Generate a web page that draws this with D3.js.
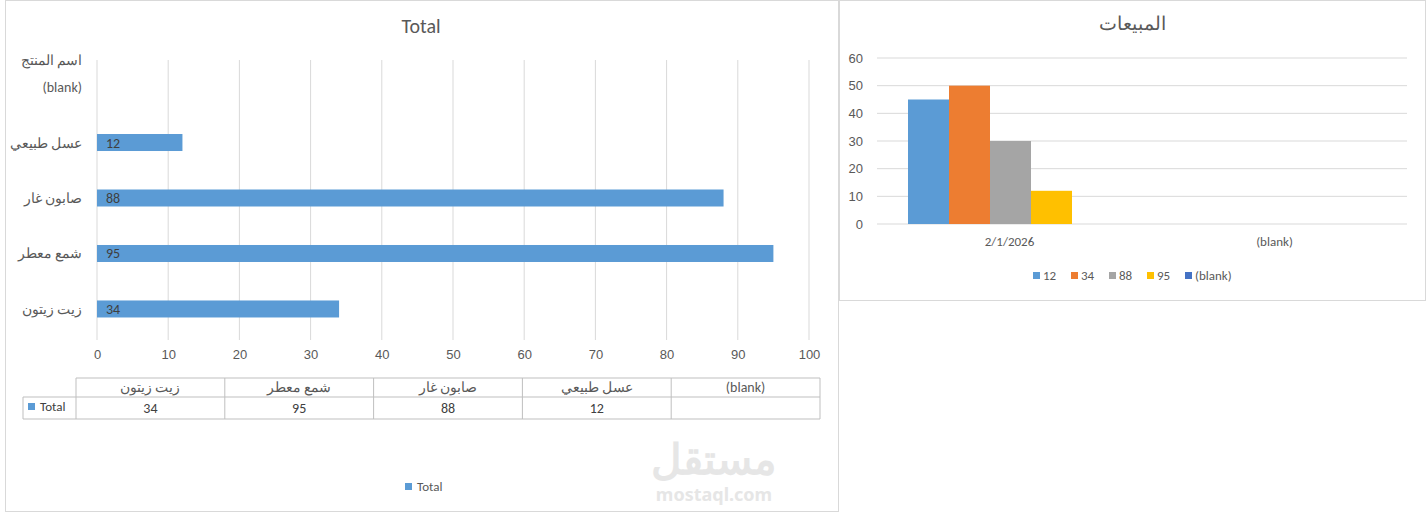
<!DOCTYPE html>
<html><head><meta charset="utf-8">
<script src="https://cdn.jsdelivr.net/npm/d3@7"></script>
<style>body{margin:0;background:#fff;font-family:Calibri,Carlito,"Liberation Sans","Noto Sans",sans-serif}</style>
</head><body><svg id="c" width="1428" height="514"></svg>
<script>
const barCats = ["(blank)", "عسل طبيعي", "صابون غار", "شمع  معطر", "زيت زيتون"];
const barVals = [null, 12, 88, 95, 34];
const xTicks = [0,10,20,30,40,50,60,70,80,90,100];
const tableCats = ["زيت زيتون", "شمع  معطر", "صابون غار", "عسل طبيعي", "(blank)"];
const tableVals = [34, 95, 88, 12, null];
const colCats = ["2/1/2026", "(blank)"];
const colSeries = ["12", "34", "88", "95", "(blank)"];
const colVals = [[45, 50, 30, 12, null], [null, null, null, null, null]];
const colColors = ["#5b9bd5", "#ed7d31", "#a5a5a5", "#ffc000", "#4472c4"];
const yTicks = [0,10,20,30,40,50,60];

const svg = d3.select("#c");
const txt = "#595959", grid = "#d9d9d9";
svg.append("rect").attr("x",5.5).attr("y",0.5).attr("width",833).attr("height",511).attr("fill","#fff").attr("stroke","#d9d9d9");
svg.append("text").attr("x",421).attr("y",33).attr("text-anchor","middle").attr("font-size",20).attr("fill",txt).text("Total");
const x = d3.scaleLinear().domain([0,100]).range([97,809]);
const y = d3.scaleBand().domain(barCats).range([59,337]).paddingInner(0.69).paddingOuter(0.35);
const gL = svg.append("g");
gL.selectAll("line.g").data(xTicks).join("line").attr("x1",d=>x(d)).attr("x2",d=>x(d)).attr("y1",60).attr("y2",340).attr("stroke",grid);
const ax = d3.axisBottom(x).tickValues(xTicks).tickSize(0).tickPadding(10);
gL.append("g").attr("transform","translate(0,340)").call(ax).call(g=>{g.select(".domain").remove();g.selectAll("text").attr("font-size",13).attr("fill",txt).attr("font-family","inherit");});
const bd = barCats.map((c,i)=>({c,v:barVals[i]})).filter(d=>d.v!=null);
gL.selectAll("rect.b").data(bd).join("rect")
 .attr("x",x(0)).attr("y",d=>y(d.c)+y.bandwidth()/2-8.5).attr("width",d=>x(d.v)-x(0)).attr("height",17).attr("fill","#5b9bd5");
gL.selectAll("text.v").data(bd).join("text")
 .attr("x",x(0)+9).attr("y",d=>y(d.c)+y.bandwidth()/2+5).attr("font-size",14).attr("fill","#404040").text(d=>d.v);
gL.selectAll("text.c").data(barCats).join("text").attr("x",82).attr("y",d=>y(d)+y.bandwidth()/2+5).attr("text-anchor","end")
 .attr("font-size",14).attr("fill",txt).text(d=>d);
gL.append("text").attr("x",82).attr("y",65).attr("text-anchor","end").attr("font-size",14).attr("fill",txt).text("اسم المنتج");
const tx = d3.scaleBand().domain(tableCats).range([76,820]);
const tg = svg.append("g").attr("stroke","#bfbfbf");
[[76,378,820,378],[23,397,820,397],[23,419,820,419],[23,397,23,419]].forEach(l=>tg.append("line").attr("x1",l[0]).attr("y1",l[1]).attr("x2",l[2]).attr("y2",l[3]));
tableCats.forEach(c=>tg.append("line").attr("x1",tx(c)).attr("x2",tx(c)).attr("y1",378).attr("y2",419));
tg.append("line").attr("x1",820).attr("x2",820).attr("y1",378).attr("y2",419);
svg.selectAll("text.th").data(tableCats).join("text").attr("x",d=>tx(d)+tx.bandwidth()/2).attr("y",392).attr("text-anchor","middle").attr("font-size",14).attr("fill",txt).text(d=>d);
svg.selectAll("text.td").data(tableCats.map((c,i)=>({c,v:tableVals[i]})).filter(d=>d.v!=null)).join("text").attr("x",d=>tx(d.c)+tx.bandwidth()/2).attr("y",413).attr("text-anchor","middle").attr("font-size",14).attr("fill","#404040").text(d=>d.v);
svg.append("rect").attr("x",28).attr("y",403).attr("width",7).attr("height",7).attr("fill","#5b9bd5");
svg.append("text").attr("x",40).attr("y",411).attr("font-size",13).attr("fill","#404040").text("Total");
svg.append("rect").attr("x",405).attr("y",483).attr("width",7).attr("height",7).attr("fill","#5b9bd5");
svg.append("text").attr("x",417).attr("y",491).attr("font-size",13).attr("fill",txt).text("Total");
svg.append("text").attr("x",714).attr("y",474).attr("text-anchor","middle").attr("font-size",42).attr("font-weight","bold").attr("fill","#e6e6e6").attr("font-family","Noto Sans").text("مستقل");
svg.append("text").attr("x",714).attr("y",501).attr("text-anchor","middle").attr("font-size",18).attr("font-weight","bold").attr("fill","#e6e6e6").attr("font-family","Noto Sans").text("mostaql.com");

svg.append("rect").attr("x",839.5).attr("y",0.5).attr("width",586).attr("height",300).attr("fill","#fff").attr("stroke","#d9d9d9");
svg.append("text").attr("x",1132).attr("y",30).attr("text-anchor","middle").attr("font-size",19).attr("fill",txt).text("المبيعات");
const yR = d3.scaleLinear().domain([0,60]).range([224,58]);
const xR = d3.scaleBand().domain(colCats).range([877,1407]);
const xS = d3.scaleBand().domain(colSeries).range([31,31+41*5]);
const gR = svg.append("g");
gR.selectAll("line").data(yTicks).join("line").attr("x1",877).attr("x2",1407).attr("y1",d=>yR(d)).attr("y2",d=>yR(d)).attr("stroke",grid);
gR.append("g").attr("transform","translate(877,0)").call(d3.axisLeft(yR).tickValues(yTicks).tickSize(0).tickPadding(14))
 .call(g=>{g.select(".domain").remove();g.selectAll("text").attr("font-size",13).attr("fill",txt).attr("font-family","inherit");});
colCats.forEach((c,ci)=>{
 colSeries.forEach((s,si)=>{const v=colVals[ci][si]; if(v==null)return;
  gR.append("rect").attr("x",xR(c)+xS(s)).attr("y",yR(v)).attr("width",xS.bandwidth()).attr("height",yR(0)-yR(v)).attr("fill",colColors[si]);});
 gR.append("text").attr("x",xR(c)+xR.bandwidth()/2).attr("y",246).attr("text-anchor","middle").attr("font-size",13).attr("fill",txt).text(c);
});
const lg = svg.append("g");
let lx = 1033;
colSeries.forEach((s,i)=>{
 lg.append("rect").attr("x",lx).attr("y",272).attr("width",7).attr("height",7).attr("fill",colColors[i]);
 lg.append("text").attr("x",lx+10).attr("y",280).attr("font-size",13).attr("fill",txt).text(s);
 lx += 38;
});
</script></body></html>
